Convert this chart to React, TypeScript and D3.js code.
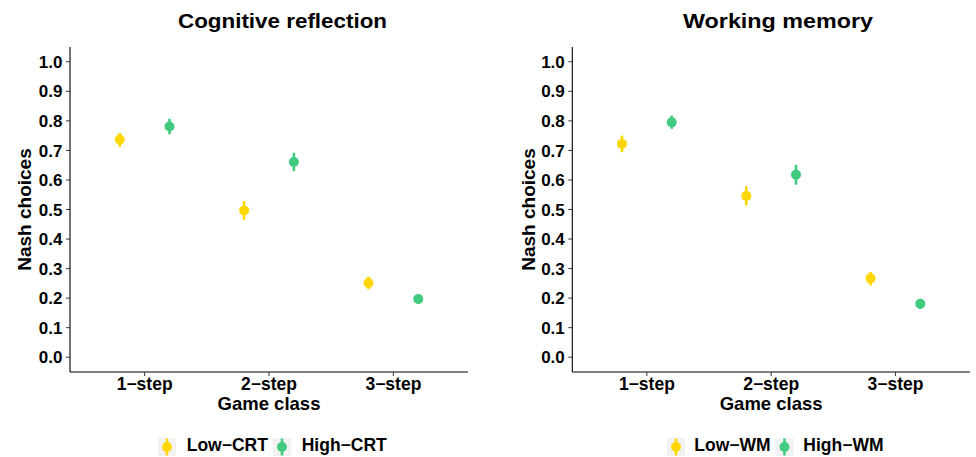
import React from "react";
import * as d3 from "d3";

const categories = ["1−step", "2−step", "3−step"];
const yTickValues = [0, 0.1, 0.2, 0.3, 0.4, 0.5, 0.6, 0.7, 0.8, 0.9, 1.0];

const crtTitle = "Cognitive reflection";
const crtLabels = ["Low−CRT", "High−CRT"];
const crtLowMean = [0.737, 0.497, 0.251];
const crtLowLo = [0.712, 0.465, 0.23];
const crtLowHi = [0.759, 0.529, 0.273];
const crtHighMean = [0.781, 0.661, 0.197];
const crtHighLo = [0.755, 0.63, 0.181];
const crtHighHi = [0.807, 0.692, 0.211];

const wmTitle = "Working memory";
const wmLabels = ["Low−WM", "High−WM"];
const wmLowMean = [0.722, 0.546, 0.267];
const wmLowLo = [0.694, 0.514, 0.243];
const wmLowHi = [0.75, 0.578, 0.288];
const wmHighMean = [0.795, 0.618, 0.181];
const wmHighLo = [0.773, 0.584, 0.163];
const wmHighHi = [0.818, 0.651, 0.197];

const colors = ["#FFD700", "#40CB80"];
const FONT = "'Liberation Sans', Arial, Helvetica, sans-serif";

type Series = { mean: number[]; lo: number[]; hi: number[] };

function Panel(props: {
  x0: number;
  x1: number;
  title: string;
  titleX: number;
  titleLen: number;
  yTitleX: number;
  series: Series[];
  labels: string[];
  legendKeys: number[];
  legendTexts: number[];
}) {
  const { x0, x1, title, titleX, titleLen, yTitleX, series, labels, legendKeys, legendTexts } = props;
  const yTop = 47;
  const yBot = 372;
  const y = d3.scaleLinear().domain([-0.05, 1.05]).range([yBot, yTop]);
  const x = d3.scaleLinear().domain([0.4, 3.6]).range([x0, x1]);
  const dodge = [-0.2, 0.2];
  const r = 5;
  return (
    <g>
      <text x={titleX} y={27.5} textAnchor="middle" fontSize={21} fontWeight="bold" fontFamily={FONT}
        textLength={titleLen} lengthAdjust="spacingAndGlyphs">{title}</text>
      {/* axes */}
      <line x1={x0} x2={x0} y1={yTop} y2={yBot} stroke="#000" strokeWidth={1.1} />
      <line x1={x0} x2={x1} y1={yBot} y2={yBot} stroke="#000" strokeWidth={1.1} />
      {yTickValues.map((v) => (
        <g key={"yt" + v}>
          <line x1={x0 - 4} x2={x0} y1={y(v)} y2={y(v)} stroke="#333" strokeWidth={1} />
          <text x={x0 - 7.5} y={y(v)} dy="0.36em" textAnchor="end" fontSize={17} fontWeight="bold" fontFamily={FONT}>
            {d3.format(".1f")(v)}
          </text>
        </g>
      ))}
      {categories.map((c, i) => (
        <g key={"xt" + c}>
          <line x1={x(i + 1)} x2={x(i + 1)} y1={yBot} y2={yBot + 4} stroke="#333" strokeWidth={1} />
          <text x={x(i + 1)} y={389.5} textAnchor="middle" fontSize={17.5} fontWeight="bold" fontFamily={FONT}>
            {c}
          </text>
        </g>
      ))}
      <text x={(x0 + x1) / 2} y={409.5} textAnchor="middle" fontSize={18.5} fontWeight="bold" fontFamily={FONT}>
        Game class
      </text>
      <text transform={`translate(${yTitleX},${(yTop + yBot) / 2}) rotate(-90)`} textAnchor="middle"
        fontSize={19} fontWeight="bold" fontFamily={FONT}>
        Nash choices
      </text>
      {series.map((s, si) => (
        <g key={"s" + si}>
          {s.mean.map((m, i) => (
            <g key={i}>
              <line x1={x(i + 1 + dodge[si])} x2={x(i + 1 + dodge[si])} y1={y(s.lo[i])} y2={y(s.hi[i])}
                stroke={colors[si]} strokeWidth={2.6} />
              <circle cx={x(i + 1 + dodge[si])} cy={y(m)} r={r} fill={colors[si]} />
            </g>
          ))}
        </g>
      ))}
      {/* legend */}
      {labels.map((l, i) => (
        <g key={"lg" + l}>
          <rect x={legendKeys[i]} y={438} width={18} height={18} fill="#F2F2F2" />
          <line x1={legendKeys[i] + 9} x2={legendKeys[i] + 9} y1={438.5} y2={455.5} stroke={colors[i]} strokeWidth={2.6} />
          <circle cx={legendKeys[i] + 9} cy={447} r={r} fill={colors[i]} />
          <text x={legendTexts[i]} y={450.7} fontSize={17.5} fontWeight="bold" fontFamily={FONT}>
            {l}
          </text>
        </g>
      ))}
    </g>
  );
}

export default function App() {
  const crtSeries: Series[] = [
    { mean: crtLowMean, lo: crtLowLo, hi: crtLowHi },
    { mean: crtHighMean, lo: crtHighLo, hi: crtHighHi },
  ];
  const wmSeries: Series[] = [
    { mean: wmLowMean, lo: wmLowLo, hi: wmLowHi },
    { mean: wmHighMean, lo: wmHighLo, hi: wmHighHi },
  ];
  return (
    <svg width={976} height={457} style={{ position: "absolute", left: 0, top: 0, background: "#fff" }}>
      <rect width={976} height={457} fill="#fff" />
      <Panel x0={70} x1={468} title={crtTitle} titleX={282.5} titleLen={209} yTitleX={31}
        series={crtSeries} labels={crtLabels} legendKeys={[158, 273]} legendTexts={[186.7, 301.7]} />
      <Panel x0={572.3} x1={970} title={wmTitle} titleX={778} titleLen={190} yTitleX={535}
        series={wmSeries} labels={wmLabels} legendKeys={[667, 775.5]} legendTexts={[694.3, 803.3]} />
    </svg>
  );
}
